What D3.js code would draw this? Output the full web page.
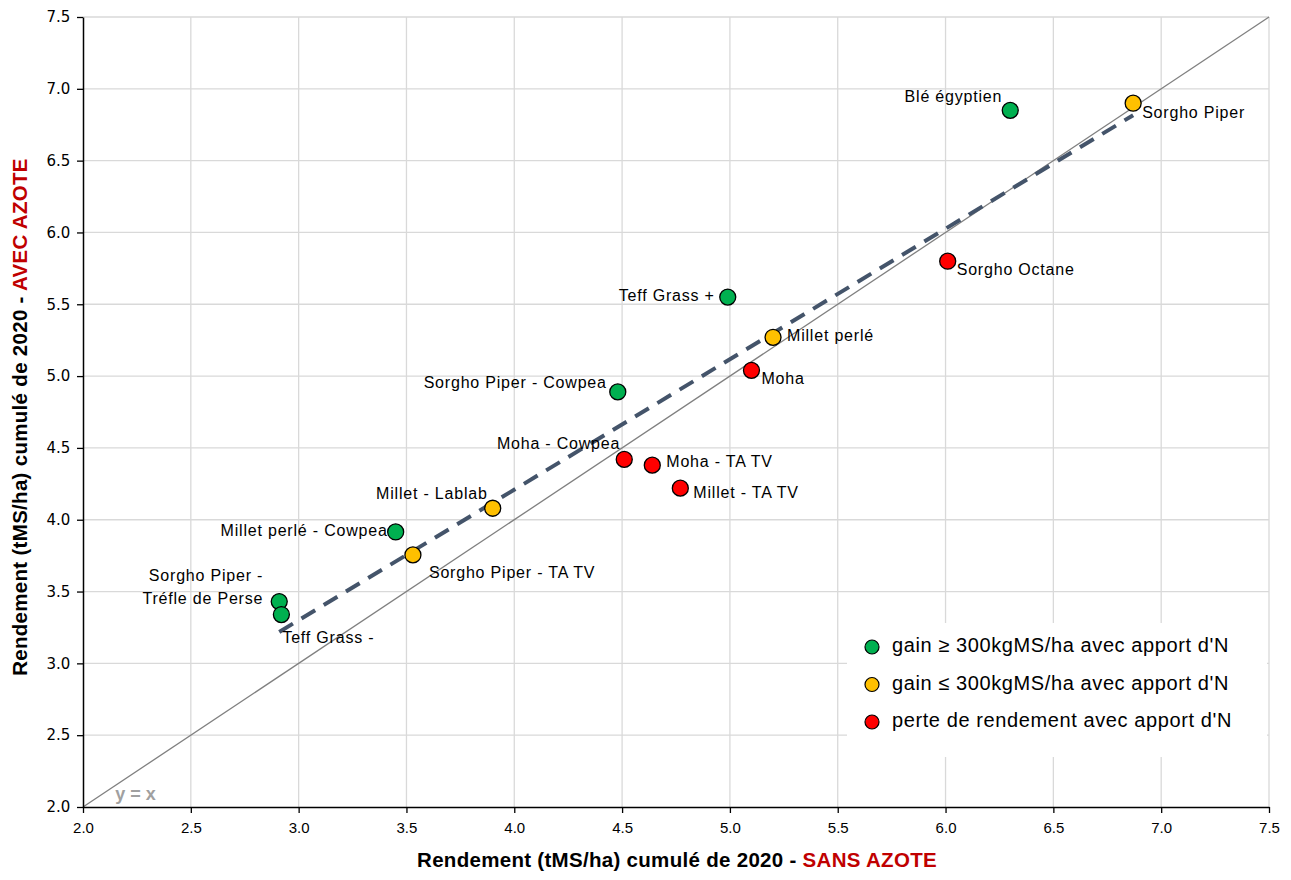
<!DOCTYPE html>
<html><head><meta charset="utf-8">
<script src="https://cdn.jsdelivr.net/npm/d3@7"></script>
<style>body{margin:0;background:#fff}</style>
</head><body><svg id="c" width="1291" height="880"></svg>
<script>
const names = ["Blé égyptien","Sorgho Piper","Sorgho Octane","Teff Grass +","Millet perlé","Moha","Sorgho Piper - Cowpea","Moha - Cowpea","Moha - TA TV","Millet - TA TV","Millet - Lablab","Millet perlé - Cowpea","Sorgho Piper - TA TV","Sorgho Piper -\nTréfle de Perse","Teff Grass -"];
const sansAzote = [6.30,6.87,6.01,4.99,5.20,5.10,4.48,4.51,4.64,4.77,3.90,3.45,3.53,2.91,2.92];
const avecAzote = [6.85,6.90,5.80,5.55,5.27,5.04,4.89,4.42,4.38,4.22,4.08,3.915,3.755,3.43,3.34];
const groups = ["gain","low","loss","gain","low","loss","gain","loss","loss","loss","low","gain","low","gain","gain"];
const groupKeys = ["gain","low","loss"];
const groupLabels = ["gain ≥ 300kgMS/ha avec apport d'N","gain ≤ 300kgMS/ha avec apport d'N","perte de rendement avec apport d'N"];
const groupColors = ["#00B050","#FFC000","#FF0000"];
const xTicks = [2.0,2.5,3.0,3.5,4.0,4.5,5.0,5.5,6.0,6.5,7.0,7.5];
const yTicks = [2.0,2.5,3.0,3.5,4.0,4.5,5.0,5.5,6.0,6.5,7.0,7.5];
// label placement (anchor, dx, dy) – separate from the data
const labelPlace = [["end",-8,-12],["start",9,11],["start",9,10],["end",-13,0],["start",14,0],["start",10,10],["end",-11,-8],["end",-4,-14],["start",14,-2],["start",13,6],["end",-5,-13],["end",-8,0],["start",16,19],["end",-16,-25],["start",1,24]];

const svg = d3.select("#c");
const L=83,R=1269,T=17,B=807;
const x = d3.scaleLinear().domain([2,7.5]).range([L,R]);
const y = d3.scaleLinear().domain([2,7.5]).range([B,T]);
const cmap = d3.scaleOrdinal().domain(groupKeys).range(groupColors);

// grid
svg.append("g").selectAll("line").data(xTicks.slice(1)).join("line")
  .attr("x1",d=>x(d)).attr("x2",d=>x(d)).attr("y1",T).attr("y2",B)
  .attr("stroke","#D9D9D9").attr("stroke-width",1.3);
svg.append("g").selectAll("line").data(yTicks.slice(1)).join("line")
  .attr("y1",d=>y(d)).attr("y2",d=>y(d)).attr("x1",L).attr("x2",R)
  .attr("stroke","#D9D9D9").attr("stroke-width",1.3);

// y = x
svg.append("line").attr("x1",x(2)).attr("y1",y(2)).attr("x2",x(7.5)).attr("y2",y(7.5))
  .attr("stroke","#808080").attr("stroke-width",1.3);
svg.append("text").attr("x",x(2.15)).attr("y",y(2.05)).text("y = x")
  .attr("font-family","Liberation Sans, Arial").attr("font-weight","bold").attr("font-size",18).attr("fill","#A0A0A0");

// regression
const n=sansAzote.length, mx=d3.mean(sansAzote), my=d3.mean(avecAzote);
let sxy=0,sxx=0; for(let i=0;i<n;i++){sxy+=(sansAzote[i]-mx)*(avecAzote[i]-my);sxx+=(sansAzote[i]-mx)**2;}
const b=sxy/sxx, a=my-b*mx;
const x0=d3.min(sansAzote), x1=d3.max(sansAzote);
svg.append("line").attr("x1",x(x0)).attr("y1",y(a+b*x0)).attr("x2",x(x1)).attr("y2",y(a+b*x1))
  .attr("stroke","#44546A").attr("stroke-width",4).attr("stroke-dasharray","16,10");

// axes
const xa = svg.append("g").attr("transform",`translate(0,${B})`)
  .call(d3.axisBottom(x).tickValues(xTicks).tickFormat(d3.format(".1f")).tickSize(6).tickSizeOuter(0));
xa.select(".domain").attr("stroke","#000").attr("stroke-width",1.5);
xa.selectAll("line").attr("stroke","#000").attr("stroke-width",1.3);
xa.selectAll("text").attr("font-family","Liberation Sans, Arial").attr("font-size",15).attr("fill","#000").attr("dy","1.1em");
const ya = svg.append("g").attr("transform",`translate(${L},0)`)
  .call(d3.axisLeft(y).tickValues(yTicks).tickFormat(d3.format(".1f")).tickSize(6).tickSizeOuter(0));
ya.select(".domain").attr("stroke","#000").attr("stroke-width",1.5);
ya.selectAll("line").attr("stroke","#000").attr("stroke-width",1.3);
ya.selectAll("text").attr("font-family","DejaVu Sans, Verdana").attr("font-size",15).attr("fill","#000").attr("dx","-0.25em");

// points
const pts = svg.append("g");
names.forEach((nm,i)=>{
  pts.append("circle").attr("cx",x(sansAzote[i])).attr("cy",y(avecAzote[i])).attr("r",8)
    .attr("fill",cmap(groups[i])).attr("stroke","#000").attr("stroke-width",1.3);
});
names.forEach((nm,i)=>{
  const [anc,dx,dy]=labelPlace[i];
  const t=svg.append("text").attr("x",x(sansAzote[i])+dx).attr("y",y(avecAzote[i])+dy)
    .attr("text-anchor",anc).attr("font-family","Liberation Sans, Arial").attr("font-size",16).attr("letter-spacing","0.8").attr("fill","#000")
    .attr("dominant-baseline","middle");
  nm.split("\n").forEach((ln,k)=>{
    t.append("tspan").attr("x",x(sansAzote[i])+dx).attr("dy",k?23:0).text(ln);
  });
});

// legend
const lg = svg.append("g");
lg.append("rect").attr("x",847).attr("y",623).attr("width",420).attr("height",134).attr("fill","#fff");
groupKeys.forEach((k,i)=>{
  const yy=647+i*37.5;
  lg.append("circle").attr("cx",872).attr("cy",yy).attr("r",7).attr("fill",groupColors[i]).attr("stroke","#000").attr("stroke-width",1.2);
  lg.append("text").attr("x",892).attr("y",yy).attr("dominant-baseline","middle")
    .attr("font-family","Liberation Sans, Arial").attr("font-size",20).attr("letter-spacing","0.6").attr("fill","#000").text(groupLabels[i]);
});

// axis titles
const xt = svg.append("text").attr("x",677).attr("y",867).attr("text-anchor","middle")
  .attr("font-family","Liberation Sans, Arial").attr("font-weight","bold").attr("font-size",20.5).attr("letter-spacing","0.3");
xt.append("tspan").attr("fill","#000").text("Rendement (tMS/ha) cumulé de 2020 - ");
xt.append("tspan").attr("fill","#C00000").text("SANS AZOTE");
const yt = svg.append("text").attr("transform",`translate(27,417) rotate(-90)`).attr("text-anchor","middle")
  .attr("font-family","Liberation Sans, Arial").attr("font-weight","bold").attr("font-size",20.5).attr("letter-spacing","0.3");
yt.append("tspan").attr("fill","#000").text("Rendement (tMS/ha) cumulé de 2020 - ");
yt.append("tspan").attr("fill","#C00000").text("AVEC AZOTE");
</script></body></html>
